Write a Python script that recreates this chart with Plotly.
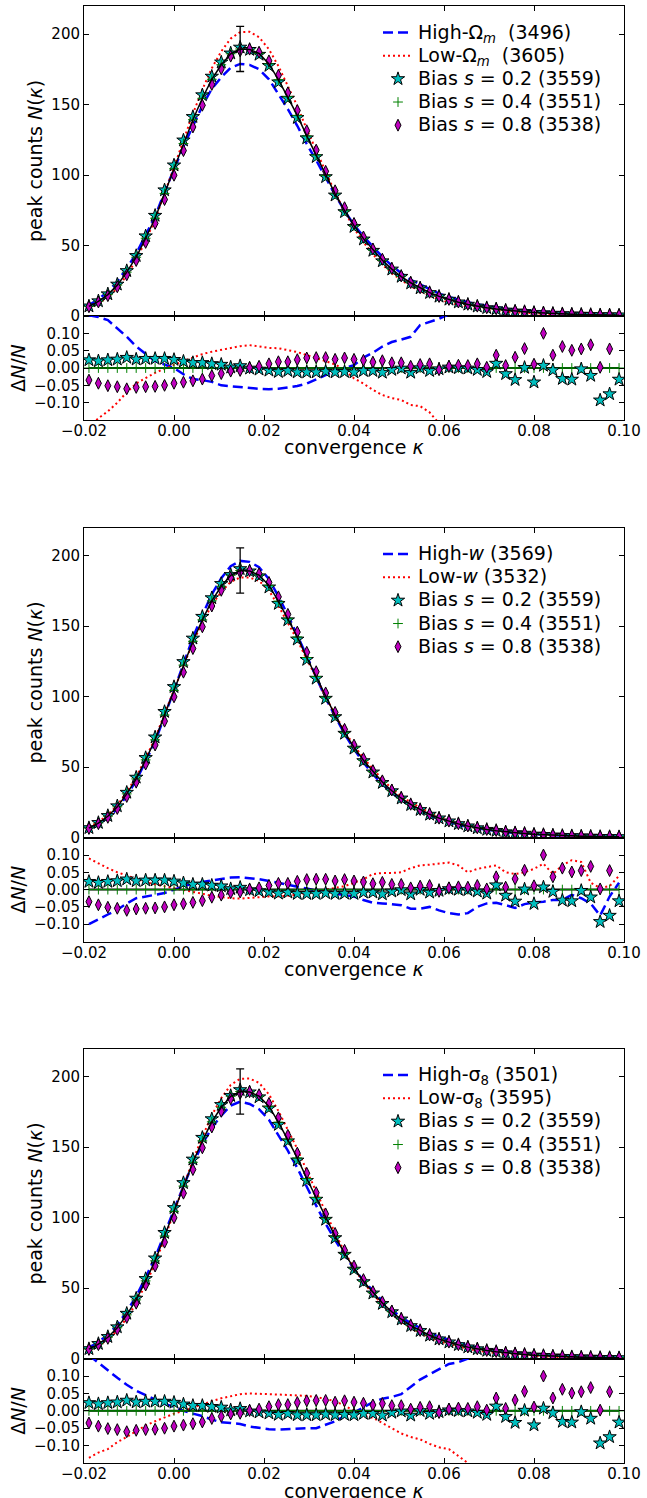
import plotly.graph_objects as go

W, H = 647, 1498
FONT = "DejaVu Sans"

# ---------------- data ----------------
kappa = [-0.0189, -0.0168, -0.0147, -0.0126, -0.0105, -0.0084, -0.0063, -0.0042, -0.0021, 0.0000,
         0.0021, 0.0042, 0.0063, 0.0084, 0.0105, 0.0126, 0.0147, 0.0168, 0.0189, 0.0211,
         0.0232, 0.0253, 0.0274, 0.0295, 0.0316, 0.0337, 0.0358, 0.0379, 0.0400, 0.0421,
         0.0442, 0.0463, 0.0484, 0.0505, 0.0526, 0.0547, 0.0568, 0.0589, 0.0611, 0.0632,
         0.0653, 0.0674, 0.0695, 0.0716, 0.0737, 0.0758, 0.0779, 0.0800, 0.0821, 0.0842,
         0.0863, 0.0884, 0.0905, 0.0926, 0.0947, 0.0968, 0.0989]

# fiducial peak counts N(kappa)
fid = [6.8, 10.4, 15.2, 21.9, 31.1, 41.7, 55.2, 69.4, 87.0, 104.5,
       122.4, 139.3, 154.5, 168.0, 178.3, 186.1, 189.5, 189.2, 186.3, 178.9,
       167.8, 155.6, 142.4, 127.8, 114.3, 99.7, 86.7, 74.7, 64.1, 54.9,
       46.8, 39.5, 33.3, 28.0, 23.6, 19.8, 16.6, 13.9, 11.7, 9.8,
       8.2, 6.9, 5.8, 4.9, 4.1, 3.5, 3.0, 2.5, 2.1, 1.8,
       1.5, 1.3, 1.1, 0.95, 0.8, 0.7, 0.6]
peak_err_index = [16]
peak_err = [16.0]

# relative residuals dN/N of the bias models
res_s02 = [0.023, 0.020, 0.023, 0.025, 0.030, 0.025, 0.027, 0.027, 0.027, 0.024,
           0.019, 0.015, 0.015, 0.012, 0.010, 0.002, 0.006, -0.001, -0.004, -0.007,
           -0.011, -0.008, -0.012, -0.012, -0.012, -0.010, -0.012, -0.011, -0.012, -0.008,
           -0.008, -0.013, -0.005, -0.001, -0.013, 0.000, -0.008, -0.003, 0.002, 0.000,
           -0.001, -0.005, -0.011, 0.013, -0.017, -0.034, 0.001, -0.041, 0.007, -0.006,
           -0.031, -0.033, -0.003, -0.022, -0.093, -0.075, -0.033]
res_s04 = [0.0, 0.0, 0.0, 0.0, 0.0, 0.0, 0.0, 0.0, 0.0, 0.0,
           0.0, 0.0, 0.0, 0.0, 0.0, 0.0, 0.0, 0.0, 0.0, 0.0,
           0.0, 0.0, 0.0, 0.0, 0.0, 0.0, 0.0, 0.0, 0.0, 0.0,
           0.0, 0.0, 0.0, 0.0, 0.0, 0.0, 0.0, 0.0, 0.0, 0.0,
           0.0, 0.0, 0.0, 0.0, 0.0, 0.0, 0.0, 0.0, 0.0, 0.0,
           0.0, 0.0, 0.0, 0.0, 0.0, 0.0, 0.0]
res_s08 = [-0.035, -0.044, -0.051, -0.054, -0.060, -0.056, -0.054, -0.053, -0.050, -0.044,
           -0.041, -0.037, -0.032, -0.022, -0.016, -0.009, -0.007, 0.001, 0.005, 0.012,
           0.018, 0.018, 0.024, 0.029, 0.030, 0.030, 0.025, 0.029, 0.025, 0.022,
           0.017, 0.021, 0.015, 0.015, 0.005, 0.010, 0.012, -0.005, 0.005, 0.008,
           0.007, 0.012, 0.002, 0.037, 0.007, 0.031, 0.056, 0.011, 0.100, 0.037,
           0.062, 0.051, 0.055, 0.067, 0.002, 0.055, 0.200]

# relative residuals of the cosmology variations
res_hi_om = [0.152, 0.147, 0.138, 0.115, 0.09, 0.062, 0.04, 0.02, 0.01, 0.0,
             -0.018, -0.032, -0.035, -0.04, -0.05, -0.053, -0.056, -0.058, -0.06, -0.061,
             -0.06, -0.056, -0.052, -0.045, -0.033, -0.02, -0.008, 0.0, 0.008, 0.03,
             0.044, 0.062, 0.075, 0.082, 0.09, 0.124, 0.132, 0.142, 0.155, 0.17,
             0.19, 0.2, 0.22, 0.24, 0.25, 0.27, 0.28, 0.3, 0.3, 0.32,
             0.33, 0.35, 0.35, 0.37, 0.38, 0.4, 0.42]
res_lo_om = [-0.17, -0.145, -0.125, -0.1, -0.07, -0.045, -0.029, -0.014, -0.002, 0.01,
             0.02, 0.03, 0.04, 0.047, 0.053, 0.058, 0.063, 0.066, 0.062, 0.058,
             0.057, 0.052, 0.046, 0.037, 0.029, 0.02, 0.01, -0.005, -0.03, -0.045,
             -0.063, -0.078, -0.087, -0.092, -0.107, -0.11, -0.128, -0.16, -0.18, -0.2,
             -0.21, -0.22, -0.23, -0.24, -0.25, -0.26, -0.27, -0.28, -0.29, -0.3,
             -0.31, -0.32, -0.33, -0.34, -0.35, -0.36, -0.37]
res_hi_w = [-0.10, -0.085, -0.072, -0.058, -0.04, -0.025, -0.02, -0.017, -0.01, 0.0,
            0.01, 0.018, 0.022, 0.027, 0.032, 0.035, 0.036, 0.034, 0.03, 0.025,
            0.02, 0.015, 0.008, 0.003, -0.003, -0.008, -0.012, -0.015, -0.02, -0.03,
            -0.038, -0.04, -0.043, -0.045, -0.055, -0.055, -0.05, -0.06, -0.068, -0.072,
            -0.068, -0.05, -0.04, -0.038, -0.045, -0.053, -0.042, -0.037, -0.035, -0.03,
            -0.03, -0.015, -0.025, -0.04, -0.075, -0.02, 0.02]
res_lo_w = [0.09, 0.075, 0.062, 0.05, 0.04, 0.032, 0.022, 0.015, 0.01, 0.005,
            0.0, -0.005, -0.012, -0.018, -0.022, -0.025, -0.026, -0.025, -0.022, -0.02,
            -0.02, -0.018, -0.015, -0.01, -0.005, 0.0, 0.005, 0.01, 0.02, 0.03,
            0.045, 0.048, 0.048, 0.05, 0.062, 0.07, 0.072, 0.075, 0.078, 0.07,
            0.05, 0.06, 0.065, 0.07, 0.05, 0.045, 0.05, 0.06, 0.075, 0.045,
            0.07, 0.085, 0.08, 0.02, 0.005, 0.01, 0.04]
res_hi_s8 = [0.16, 0.138, 0.115, 0.095, 0.075, 0.058, 0.045, 0.032, 0.02, 0.012,
             0.0, -0.008, -0.015, -0.025, -0.033, -0.035, -0.038, -0.045, -0.05, -0.053,
             -0.054, -0.052, -0.05, -0.05, -0.05, -0.04, -0.03, -0.015, -0.005, 0.01,
             0.025, 0.035, 0.04, 0.048, 0.07, 0.09, 0.105, 0.12, 0.135, 0.14,
             0.15, 0.16, 0.17, 0.18, 0.19, 0.2, 0.21, 0.22, 0.23, 0.24,
             0.25, 0.26, 0.27, 0.28, 0.29, 0.3, 0.31]
res_lo_s8 = [-0.135, -0.12, -0.11, -0.09, -0.075, -0.058, -0.042, -0.03, -0.018, -0.008,
             0.0, 0.01, 0.018, 0.028, 0.036, 0.043, 0.048, 0.05, 0.05, 0.048,
             0.047, 0.046, 0.045, 0.043, 0.04, 0.035, 0.028, 0.015, 0.0, -0.015,
             -0.02, -0.035, -0.05, -0.065, -0.075, -0.082, -0.095, -0.105, -0.11, -0.13,
             -0.15, -0.17, -0.19, -0.2, -0.21, -0.22, -0.23, -0.24, -0.25, -0.26,
             -0.27, -0.28, -0.29, -0.3, -0.31, -0.32, -0.33]

high_labels = ["High-Ω<sub><i>m</i></sub>\u00a0 (3496)", "High-<i>w</i> (3569)", "High-σ<sub>8</sub> (3501)"]
low_labels = ["Low-Ω<sub><i>m</i></sub>\u00a0 (3605)", "Low-<i>w</i> (3532)", "Low-σ<sub>8</sub> (3595)"]
bias_labels = ["Bias <i>s</i> = 0.2 (3559)", "Bias <i>s</i> = 0.4 (3551)", "Bias <i>s</i> = 0.8 (3538)"]
high_res = [res_hi_om, res_hi_w, res_hi_s8]
low_res = [res_lo_om, res_lo_w, res_lo_s8]

x_ticks = [-0.02, 0.0, 0.02, 0.04, 0.06, 0.08, 0.10]
main_yticks = [0, 50, 100, 150, 200]
res_yticks = [-0.10, -0.05, 0.0, 0.05, 0.10]

# ---------------- styles ----------------
BLUE, RED, GREEN = "#0000FF", "#FF0000", "#008000"
CYAN, MAGENTA = "#00BFBF", "#BF00BF"
STAR_SIZE, DIAM_SIZE, PLUS_SIZE = 10, 8.5, 7

# panel pixel geometry (top of main, boundary, bottom of residual)
panels_px = [(6.0, 316.0, 420.0), (527.5, 837.7, 941.5), (1048.5, 1358.7, 1463.0)]
X0, X1 = 84.0, 624.0


def ydom(top, bot):
    return [1 - bot / H, 1 - top / H]


def scaled(base, rel):
    return [b * (1 + r) for b, r in zip(base, rel)]


def big(label):
    return '<span style="font-size:19px">' + label + "</span>"


fig = go.Figure()
axis_common = dict(showline=True, linecolor="black", linewidth=1, mirror="ticks",
                   ticks="inside", ticklen=5, tickwidth=1, tickcolor="black",
                   showgrid=False, zeroline=False, automargin=False,
                   tickfont=dict(family=FONT, size=15, color="black"))

annotations = []
for p in range(3):
    top, mid, bot = panels_px[p]
    im, ir = 2 * p + 1, 2 * p + 2
    xm, ym = ("x" if im == 1 else f"x{im}"), ("y" if im == 1 else f"y{im}")
    xr, yr = f"x{ir}", f"y{ir}"
    leg = "legend" if p == 0 else f"legend{p + 1}"

    # ---- main panel ----
    fig.add_trace(go.Scatter(x=kappa, y=scaled(fid, high_res[p]), mode="lines",
                             line=dict(color=BLUE, width=2.5, dash="10px,5px"),
                             name=big(high_labels[p]), legend=leg, legendrank=1, xaxis=xm, yaxis=ym))
    fig.add_trace(go.Scatter(x=kappa, y=scaled(fid, low_res[p]), mode="lines",
                             line=dict(color=RED, width=2, dash="2px,3px"),
                             name=big(low_labels[p]), legend=leg, legendrank=2, xaxis=xm, yaxis=ym))
    fig.add_trace(go.Scatter(x=kappa, y=scaled(fid, res_s02), mode="markers",
                             marker=dict(symbol="star", size=STAR_SIZE, color=CYAN,
                                         line=dict(color="black", width=1)),
                             name=big(bias_labels[0]), legend=leg, legendrank=3, xaxis=xm, yaxis=ym))
    fig.add_trace(go.Scatter(x=kappa, y=scaled(fid, res_s04), mode="markers",
                             marker=dict(symbol="cross-thin", size=PLUS_SIZE, color=GREEN,
                                         line=dict(color=GREEN, width=1)),
                             name=big(bias_labels[1]), legend=leg, legendrank=4, xaxis=xm, yaxis=ym))
    fig.add_trace(go.Scatter(x=kappa, y=scaled(fid, res_s08), mode="markers",
                             marker=dict(symbol="diamond-tall", size=DIAM_SIZE, color=MAGENTA,
                                         line=dict(color="black", width=1)),
                             name=big(bias_labels[2]), legend=leg, legendrank=5, xaxis=xm, yaxis=ym))
    fig.add_trace(go.Scatter(x=kappa, y=fid, mode="lines", line=dict(color="black", width=1.5),
                             showlegend=False, xaxis=xm, yaxis=ym))
    fig.add_trace(go.Scatter(x=[kappa[i] for i in peak_err_index], y=[fid[i] for i in peak_err_index],
                             mode="lines", line=dict(color="black", width=1),
                             error_y=dict(type="data", array=peak_err, color="black",
                                          thickness=1.3, width=4, visible=True),
                             showlegend=False, xaxis=xm, yaxis=ym))

    # ---- residual panel ----
    fig.add_trace(go.Scatter(x=kappa, y=high_res[p], mode="lines",
                             line=dict(color=BLUE, width=2.5, dash="10px,5px"),
                             showlegend=False, xaxis=xr, yaxis=yr))
    fig.add_trace(go.Scatter(x=kappa, y=low_res[p], mode="lines",
                             line=dict(color=RED, width=2, dash="2px,3px"),
                             showlegend=False, xaxis=xr, yaxis=yr))
    fig.add_trace(go.Scatter(x=kappa, y=[f / f - 1 for f in fid], mode="lines",
                             line=dict(color="black", width=2),
                             showlegend=False, xaxis=xr, yaxis=yr))
    fig.add_trace(go.Scatter(x=kappa, y=res_s04, mode="lines+markers",
                             line=dict(color=GREEN, width=1),
                             marker=dict(symbol="cross-thin", size=PLUS_SIZE, color=GREEN,
                                         line=dict(color=GREEN, width=1)),
                             showlegend=False, xaxis=xr, yaxis=yr))
    fig.add_trace(go.Scatter(x=kappa, y=res_s02, mode="markers",
                             marker=dict(symbol="star", size=STAR_SIZE, color=CYAN,
                                         line=dict(color="black", width=1)),
                             showlegend=False, xaxis=xr, yaxis=yr))
    fig.add_trace(go.Scatter(x=kappa, y=res_s08, mode="markers",
                             marker=dict(symbol="diamond-tall", size=DIAM_SIZE, color=MAGENTA,
                                         line=dict(color="black", width=1)),
                             showlegend=False, xaxis=xr, yaxis=yr))

    # ---- axes ----
    kx = "xaxis" if im == 1 else f"xaxis{im}"
    ky = "yaxis" if im == 1 else f"yaxis{im}"
    fig.update_layout(**{
        kx: dict(axis_common, domain=[X0 / W, X1 / W], anchor=ym, range=[-0.02, 0.10],
                 tickvals=x_ticks, showticklabels=False),
        ky: dict(axis_common, domain=ydom(top, mid), anchor=xm, range=[0, 220],
                 tickvals=main_yticks),
        f"xaxis{ir}": dict(axis_common, domain=[X0 / W, X1 / W], anchor=yr, range=[-0.02, 0.10],
                           tickvals=x_ticks, tickformat=".2f", ticklabelstandoff=-3),
        f"yaxis{ir}": dict(axis_common, domain=ydom(mid, bot), anchor=xr, range=[-0.15, 0.15],
                           tickvals=res_yticks, tickformat=".2f"),
        leg: dict(x=378 / W, y=1 - (top + 10) / H, xanchor="left", yanchor="top",
                  bgcolor="rgba(0,0,0,0)", borderwidth=0,
                  font=dict(family=FONT, size=15.5, color="black")),
    })

    # ---- axis titles ----
    annotations.append(dict(text="peak counts <i>N</i>(<i>κ</i>)", xref="paper", yref="paper",
                            x=35 / W, y=1 - (top + mid) / 2 / H, textangle=-90, showarrow=False,
                            xanchor="center", yanchor="middle",
                            font=dict(family=FONT, size=19, color="black")))
    annotations.append(dict(text="Δ<i>N</i>/<i>N</i>", xref="paper", yref="paper",
                            x=18 / W, y=1 - (mid + bot) / 2 / H, textangle=-90, showarrow=False,
                            xanchor="center", yanchor="middle",
                            font=dict(family=FONT, size=19, color="black")))
    annotations.append(dict(text="convergence <i>κ</i>", xref="paper", yref="paper",
                            x=(X0 + X1) / 2 / W, y=1 - (bot + 27.5) / H, showarrow=False,
                            xanchor="center", yanchor="middle",
                            font=dict(family=FONT, size=19, color="black")))

fig.update_layout(width=W, height=H, margin=dict(l=0, r=0, t=0, b=0, autoexpand=False),
                  plot_bgcolor="white", paper_bgcolor="white",
                  font=dict(family=FONT, color="black"), annotations=annotations)

fig.write_html("out.html", config={"displayModeBar": False},
               post_script="document.body.style.margin='0';document.body.style.padding='0';")
